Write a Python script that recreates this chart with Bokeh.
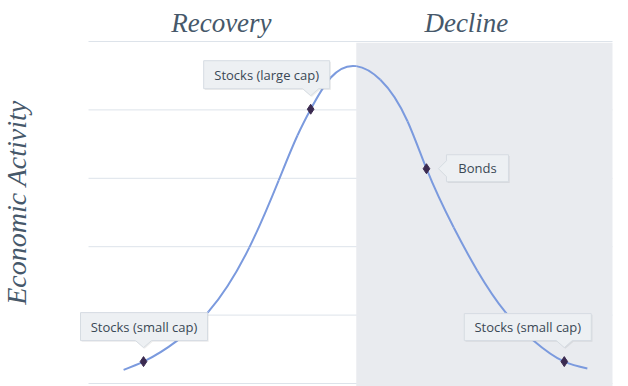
import math
import numpy as np
from bokeh.plotting import figure
from bokeh.models import Range1d, Label, ColumnDataSource
from bokeh.core.properties import value
from bokeh.embed import file_html
from bokeh.resources import INLINE

# ---- data (x: position in the cycle 0-10, y: economic activity 0-5) ----
curve_x = [0.67, 1.05, 1.70, 2.29, 3.07, 3.63, 3.99, 4.24, 4.62, 5.11, 5.57,
           6.09, 6.45, 6.97, 7.42, 7.96, 8.49, 9.08, 9.52]
curve_y = [0.20, 0.32, 0.63, 1.05, 1.99, 2.97, 3.63, 4.01, 4.47, 4.64, 4.44,
           3.83, 3.14, 2.28, 1.65, 1.04, 0.63, 0.32, 0.22]
point_names = ["Stocks (small cap)", "Stocks (large cap)", "Bonds", "Stocks (small cap)"]
point_x = [1.05, 4.24, 6.45, 9.08]
point_y = [0.32, 4.01, 3.14, 0.32]
phase_names = ["Recovery", "Decline"]
phase_start = [0.0, 5.11]
phase_end = [5.11, 10.0]
grid_ticks = [0, 1, 2, 3, 4, 5]

# ---- layout (frame = whole canvas; plot area mapped inside it) ----
W, H = 628, 386
LEFT, RIGHT, TOP, BOTTOM = 88, 16, 41, 3
X0, X1, Y0, Y1 = 0.0, 10.0, 0.0, 5.0
KX = (W - LEFT - RIGHT) / (X1 - X0)        # px per x unit
KY = (H - TOP - BOTTOM) / (Y1 - Y0)        # px per y unit

p = figure(width=W, height=H, output_backend="svg", toolbar_location=None,
           x_axis_location=None, y_axis_location=None,
           x_range=Range1d(X0 - LEFT / KX, X1 + RIGHT / KX),
           y_range=Range1d(Y0 - BOTTOM / KY, Y1 + TOP / KY),
           min_border=0, background_fill_color="white", border_fill_color="white")
p.outline_line_color = None
p.grid.visible = False

# horizontal grid lines
p.segment(x0=[X0] * len(grid_ticks), x1=[X1] * len(grid_ticks), y0=grid_ticks,
          y1=grid_ticks, line_color="#dde3ea", line_width=1)

# decline band (covers the grid)
p.quad(left=phase_start[1:], right=phase_end[1:], bottom=[Y0 - BOTTOM / KY],
       top=[Y1 - 1.2 / KY], fill_color="#e9ebef", line_color=None)

# phase titles
phase_dx = [-1, -18]
for name, a, b, dx in zip(phase_names, phase_start, phase_end, phase_dx):
    p.add_layout(Label(x=(a + b) / 2, y=Y1, x_offset=dx, y_offset=19, text=name,
                       text_font="Liberation Serif", text_font_style="italic",
                       text_font_size="27px", text_color="#46586a",
                       text_align="center", text_baseline="alphabetic"))

# y title
p.add_layout(Label(x=X0, y=(Y0 + Y1) / 2, x_offset=-72, y_offset=10, angle=math.pi / 2,
                   text="Economic Activity", text_font="Liberation Serif",
                   text_font_style="italic", text_font_size="28px",
                   text_color="#46586a", text_align="center", text_baseline="middle"))

# smooth curve: natural cubic spline through the points, drawn as Bezier segments
xs = np.array(curve_x)
ys = np.array(curve_y)
n = len(xs)
h = np.diff(xs)
A = np.zeros((n, n))
rhs = np.zeros(n)
A[0, 0] = A[-1, -1] = 1
for i in range(1, n - 1):
    A[i, i - 1] = h[i - 1]
    A[i, i] = 2 * (h[i - 1] + h[i])
    A[i, i + 1] = h[i]
    rhs[i] = 6 * ((ys[i + 1] - ys[i]) / h[i] - (ys[i] - ys[i - 1]) / h[i - 1])
M = np.linalg.solve(A, rhs)
sl = np.diff(ys) / h
d0 = sl - h * (2 * M[:-1] + M[1:]) / 6
d1 = sl + h * (M[:-1] + 2 * M[1:]) / 6
bz = dict(x0=xs[:-1], y0=ys[:-1], x1=xs[1:], y1=ys[1:],
          cx0=xs[:-1] + h / 3, cy0=ys[:-1] + d0 * h / 3,
          cx1=xs[1:] - h / 3, cy1=ys[1:] - d1 * h / 3)
p.bezier(source=ColumnDataSource(bz), x0="x0", y0="y0", x1="x1", y1="y1",
         cx0="cx0", cy0="cy0", cx1="cx1", cy1="cy1", line_color="#7b9ade", line_width=2)

p.scatter(point_x, point_y, marker="diamond", size=10, fill_color="#3b2a50",
          line_color="#3b2a50")

# callouts: box offsets in px from the point (screen y down) and pointer side
callouts = [
    dict(l=-63, r=64, t=-49, b=-21, side="below"),
    dict(l=-107, r=19, t=-48.5, b=-20.5, side="below"),
    dict(l=20, r=82, t=-14, b=13, side="left"),
    dict(l=-100, r=27, t=-48, b=-21, side="below"),
]

def outline(c):
    l, r, t, b = c["l"], c["r"], c["t"], c["b"]
    if c["side"] == "below":
        return [(l, t), (r, t), (r, b), (8, b), (0, b + 7), (-8, b), (l, b)]
    return [(l, t), (r, t), (r, b), (l, b), (l, 8), (l - 8, 0), (l, -8)]

for name, px, py, c in zip(point_names, point_x, point_y, callouts):
    pts = outline(c)
    bx = [px + dx / KX for dx, dy in pts]
    by = [py - dy / KY for dx, dy in pts]
    p.patch([x + 1.2 / KX for x in bx], [y - 1.2 / KY for y in by],
            fill_color="black", fill_alpha=0.07, line_color=None)
    p.patch(bx, by, fill_color="#edf0f3", line_color="#d6dce2", line_width=1)
    cx = px + (c["l"] + c["r"]) / 2 / KX
    cy = py - (c["t"] + c["b"]) / 2 / KY
    p.text([cx], [cy], text=[name], text_font=value("Open Sans"), text_font_size="13px",
           text_color="#3a4855", text_align="center", text_baseline="middle")

open("out.html", "w").write(file_html(p, INLINE))
